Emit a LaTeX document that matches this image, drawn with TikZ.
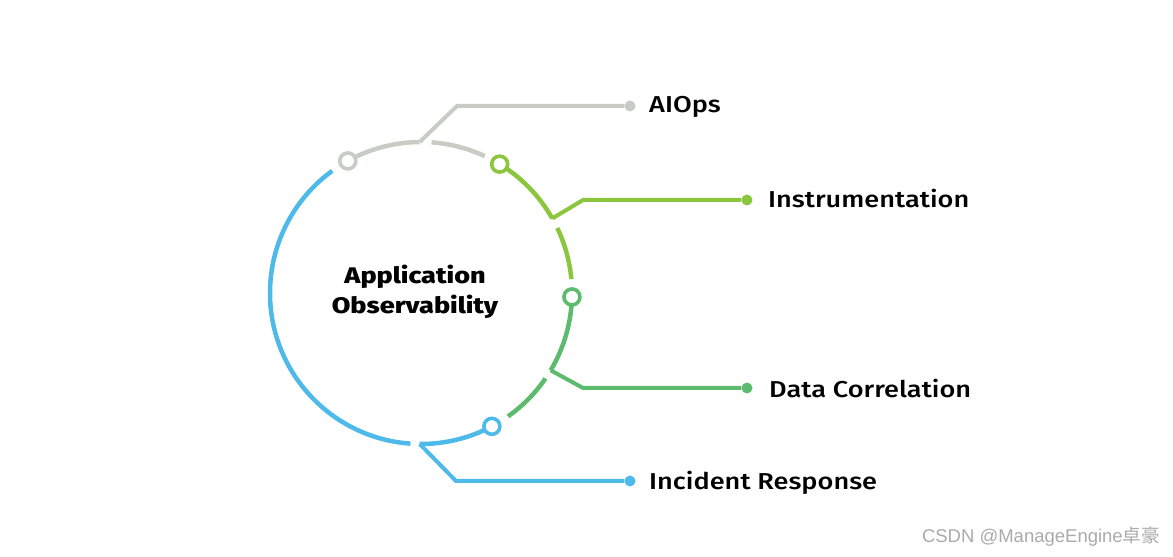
\documentclass[tikz,border=0pt]{standalone}
\usepackage{fontspec}
\usetikzlibrary{calc}
\newfontfamily\labfont{Fira Sans Medium}[FakeStretch=1.18]
\newfontfamily\titfont{Fira Sans ExtraBold}[FakeStretch=1.2]
\newfontfamily\wmfont{Liberation Sans}
\newfontfamily\cjkfont{Noto Sans CJK SC}
\definecolor{cgray}{HTML}{C8CCC4}
\definecolor{clime}{HTML}{8CC63F}
\definecolor{cgreen}{HTML}{5DBB6E}
\definecolor{cblue}{HTML}{4EBAEA}
\definecolor{cwm}{HTML}{AAAAAA}
\tikzset{
  ring/.style={line width=4.5pt},
  lead/.style={line width=4pt},
  hub/.style={circle, fill=white, line width=3.6pt, minimum size=16pt, inner sep=0pt},
  tip/.style={circle, minimum size=11pt, inner sep=0pt},
  lab/.style={font=\labfont\fontsize{23}{26}\selectfont, anchor=base west, inner sep=0pt, text=black},
}
\begin{document}
\begin{tikzpicture}[x=1pt,y=1pt]
\useasboundingbox (0,0) rectangle (1173,557);
\coordinate (C) at (421,264);
\def\R{151}
% ring points
\foreach \n/\a in {ng/119, bg/90.5, nl/58.6, bl/29.6, nn/-1.5, bn/-30.8, nb/-62, bb/-90.5}{
  \coordinate (\n) at ($(C)+(\a:\R)$);
}
% arcs
\draw[ring, cgray] ($(C)+(119:\R)$) arc[start angle=119, end angle=90.5, radius=\R];
\draw[ring, cgray] ($(C)+(86:\R)$) arc[start angle=86, end angle=65, radius=\R];
\draw[ring, clime] ($(C)+(58.6:\R)$) arc[start angle=58.6, end angle=29.6, radius=\R];
\draw[ring, clime] ($(C)+(25.5:\R)$) arc[start angle=25.5, end angle=5.3, radius=\R];
\draw[ring, cgreen] ($(C)+(-1.5:\R)$) arc[start angle=-1.5, end angle=-30.8, radius=\R];
\draw[ring, cgreen] ($(C)+(-34.5:\R)$) arc[start angle=-34.5, end angle=-54.8, radius=\R];
\draw[ring, cblue] ($(C)+(-62:\R)$) arc[start angle=-62, end angle=-90.5, radius=\R];
\draw[ring, cblue] ($(C)+(-94:\R)$) arc[start angle=-94, end angle=-234, radius=\R];
% hubs
\node[hub, draw=cgray] (hg) at (ng) {};
\node[hub, draw=clime] (hl) at (nl) {};
\node[hub, draw=cgreen] (hn) at (nn) {};
\node[hub, draw=cblue] (hb) at (nb) {};
% tips
\node[tip, fill=cgray] (tg) at (630,451) {};
\node[tip, fill=clime] (tl) at (747,357) {};
\node[tip, fill=cgreen] (tn) at (747,169) {};
\node[tip, fill=cblue] (tb) at (630,76) {};
% leaders
\draw[lead, cgray, line join=miter] (bg) -- (457,451) -- (tg.west);
\draw[lead, clime, line join=miter] (bl) -- (583,357) -- (tl.west);
\draw[lead, cgreen, line join=miter] (bn) -- (583,169) -- (tn.west);
\draw[lead, cblue, line join=miter] (bb) -- (456,76) -- (tb.west);
% labels
\node[lab] (lg) at (649,444) {AIOps};
\node[lab] (ll) at (768,349) {Instrumentation};
\node[lab] (ln) at (769,159) {Data Correlation};
\node[lab] (lb) at (649,67) {Incident Response};
\node[font=\titfont\fontsize{22.5}{30}\selectfont, align=center, inner sep=0pt] (title) at (415,265) {Application\\Observability};
\node[font=\wmfont\fontsize{18.5}{20}\selectfont, text=cwm, anchor=base east, inner sep=0pt] (wm) at (1160,14) {CSDN @ManageEngine{\cjkfont 卓豪}};
\end{tikzpicture}
\end{document}
